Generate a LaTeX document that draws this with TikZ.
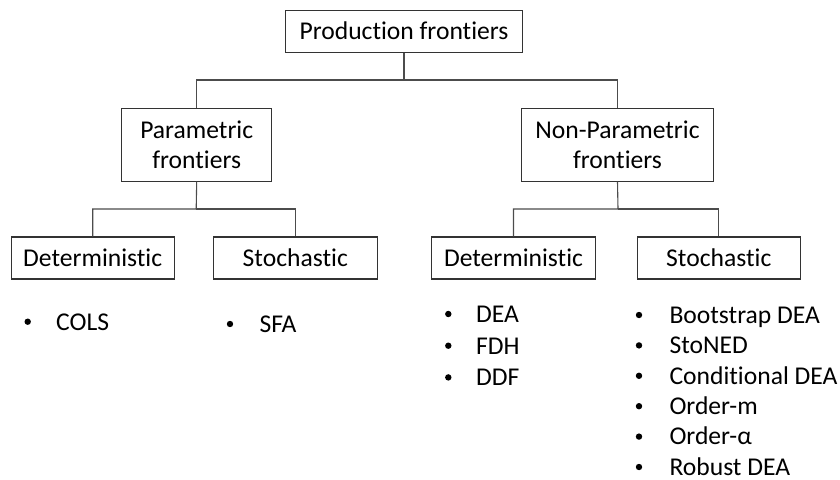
\documentclass[tikz,border=0pt]{standalone}
\usepackage{fontspec}
\setmainfont[RawFeature={-liga;-clig;-calt;-dlig}]{Carlito}
\begin{document}
\begin{tikzpicture}[x=1pt,y=-1pt,
  box/.style={draw=black!80,line width=1.1pt,rectangle,inner sep=0pt,align=center,
    font=\fontsize{25.6}{30.5}\selectfont},
  link/.style={draw=black!70,line width=1.1pt},
  item/.style={anchor=base west,inner sep=0pt,text depth=0pt,font=\fontsize{25.6}{30.5}\selectfont},
  dot/.style={circle,fill=black,inner sep=0pt,minimum size=6.4pt}]
\useasboundingbox (0,0) rectangle (840,479);

% tree boxes
\node[box,minimum width=236.6pt,minimum height=42.3pt] (top) at (404,31.2) {Production frontiers};
\node[box,minimum width=150pt,minimum height=72.7pt] (par) at (196.7,144.7) {Parametric\\frontiers};
\node[box,minimum width=191.6pt,minimum height=72.7pt] (npar) at (617.5,144.7) {Non-Parametric\\frontiers};
\node[box,minimum width=163.3pt,minimum height=42pt] (pdet) at (92.7,258) {Deterministic};
\node[box,minimum width=164pt,minimum height=42pt] (psto) at (295.3,258) {Stochastic};
\node[box,minimum width=163.6pt,minimum height=42pt] (ndet) at (513.5,258) {Deterministic};
\node[box,minimum width=163pt,minimum height=42pt] (nsto) at (718.8,258) {Stochastic};

% junction points of the elbow connectors
\coordinate (j0) at (404,80);
\coordinate (j1) at (196.2,209);
\coordinate (j2) at (618,209);

\draw[link] (top.south) -- (j0) -| (par.north);
\draw[link] (j0) -| (npar.north);
\draw[link] (par.south) -- (j1) -| (pdet.north);
\draw[link] (j1) -| (psto.north);
\draw[link] (npar.south) -- (j2) -| (ndet.north);
\draw[link] (j2) -| (nsto.north);

% method lists
\node[dot] (d1) at (27.7,321.7) {};
\node[item] (t1) at (56,330) {COLS};
\node[dot] (d2) at (230,324) {};
\node[item] (t2) at (259.3,332.3) {SFA};

\node[dot] (d3) at (448.3,314) {};
\node[item] (t3) at (476,322.3) {DEA};
\node[dot] (d4) at (448.3,345.7) {};
\node[item] (t4) at (476,354) {FDH};
\node[dot] (d5) at (448.3,377.4) {};
\node[item] (t5) at (476,385.7) {DDF};

\node[dot] (d6) at (639,315) {};
\node[item] (t6) at (669.3,323.3) {Bootstrap DEA};
\node[dot] (d7) at (639,345.4) {};
\node[item] (t7) at (669.3,353.7) {StoNED};
\node[dot] (d8) at (639,375.8) {};
\node[item] (t8) at (669.3,384.1) {Conditional DEA};
\node[dot] (d9) at (639,406.2) {};
\node[item] (t9) at (669.3,414.5) {Order-m};
\node[dot] (d10) at (639,436.6) {};
\node[item] (t10) at (669.3,444.9) {Order-α};
\node[dot] (d11) at (639,467) {};
\node[item] (t11) at (669.3,475.3) {Robust DEA};
\end{tikzpicture}
\end{document}
